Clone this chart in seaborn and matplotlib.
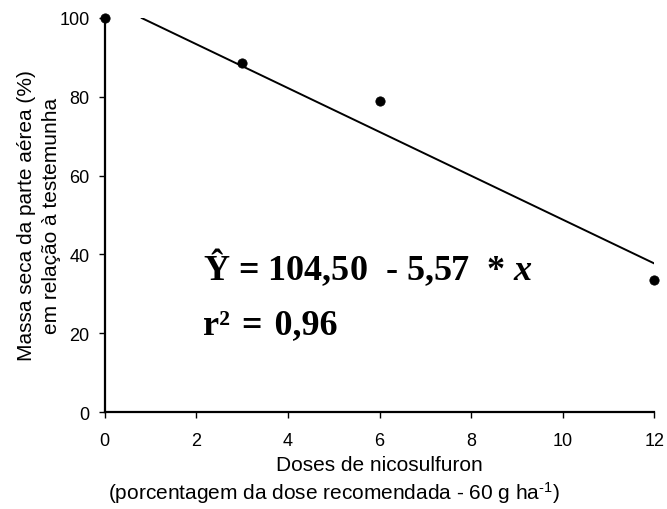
import matplotlib
matplotlib.use('Agg')
import matplotlib.pyplot as plt
import seaborn as sns

# observed points
doses = [0, 3, 6, 12]
massa = [100, 88.5, 79, 33.5]

# fitted line endpoints (Y = 104,50 - 5,57x)
fit_x = [0.8, 12]
fit_y = [100.0, 37.7]

x_ticks = [0, 2, 4, 6, 8, 10, 12]
y_ticks = [0, 20, 40, 60, 80, 100]

sns.set_style('ticks')
plt.rcParams['font.family'] = ['Liberation Sans', 'DejaVu Sans']
plt.rcParams['text.color'] = 'black'
plt.rcParams['axes.labelcolor'] = 'black'
plt.rcParams['mathtext.fontset'] = 'custom'
plt.rcParams['mathtext.rm'] = 'Liberation Sans'
plt.rcParams['mathtext.it'] = 'Liberation Serif:italic:bold'

fig = plt.figure(figsize=(6.67, 5.10), dpi=100)
ax = fig.add_axes([0.157, 0.19, 0.824, 0.773])

sns.lineplot(x=fit_x, y=fit_y, ax=ax, color='black', linewidth=1.4)
sns.scatterplot(x=doses, y=massa, ax=ax, color='black', s=45, edgecolor='black',
                zorder=5, clip_on=False)

ax.set_xlim(0, 12)
ax.set_ylim(0, 100)
ax.set_xticks(x_ticks)
ax.set_yticks(y_ticks)
ax.tick_params(labelsize=13, length=4, width=1, colors='black', labelcolor='black')
ax.tick_params(axis='x', pad=10)
ax.tick_params(axis='y', pad=7)
for s in ['left', 'bottom']:
    ax.spines[s].set_linewidth(1.6)
    ax.spines[s].set_color('black')
sns.despine(ax=ax)

ax.set_ylabel('Massa seca da parte aérea (%)\nem relação à testemunha', fontsize=15,
              labelpad=-1, linespacing=1.35)
ax.set_xlabel('Doses de nicosulfuron', fontsize=15, labelpad=5)
fig.text(0.5, 0.02, '(porcentagem da dose recomendada - 60 g ha$^{\\text{-1}}$)',
         fontsize=15, ha='center', va='baseline')

eq_font = dict(family='Liberation Serif', fontweight='bold', fontsize=26, color='black')
ax.text(2.14, 33.8, 'Ŷ = 104,50  - 5,57  * $x$', va='baseline', ha='left', **eq_font)
ax.text(2.14, 20.0, 'r²\u200a = \u200a0,96', va='baseline', ha='left', **eq_font)

fig.savefig('out.png', dpi=100)
